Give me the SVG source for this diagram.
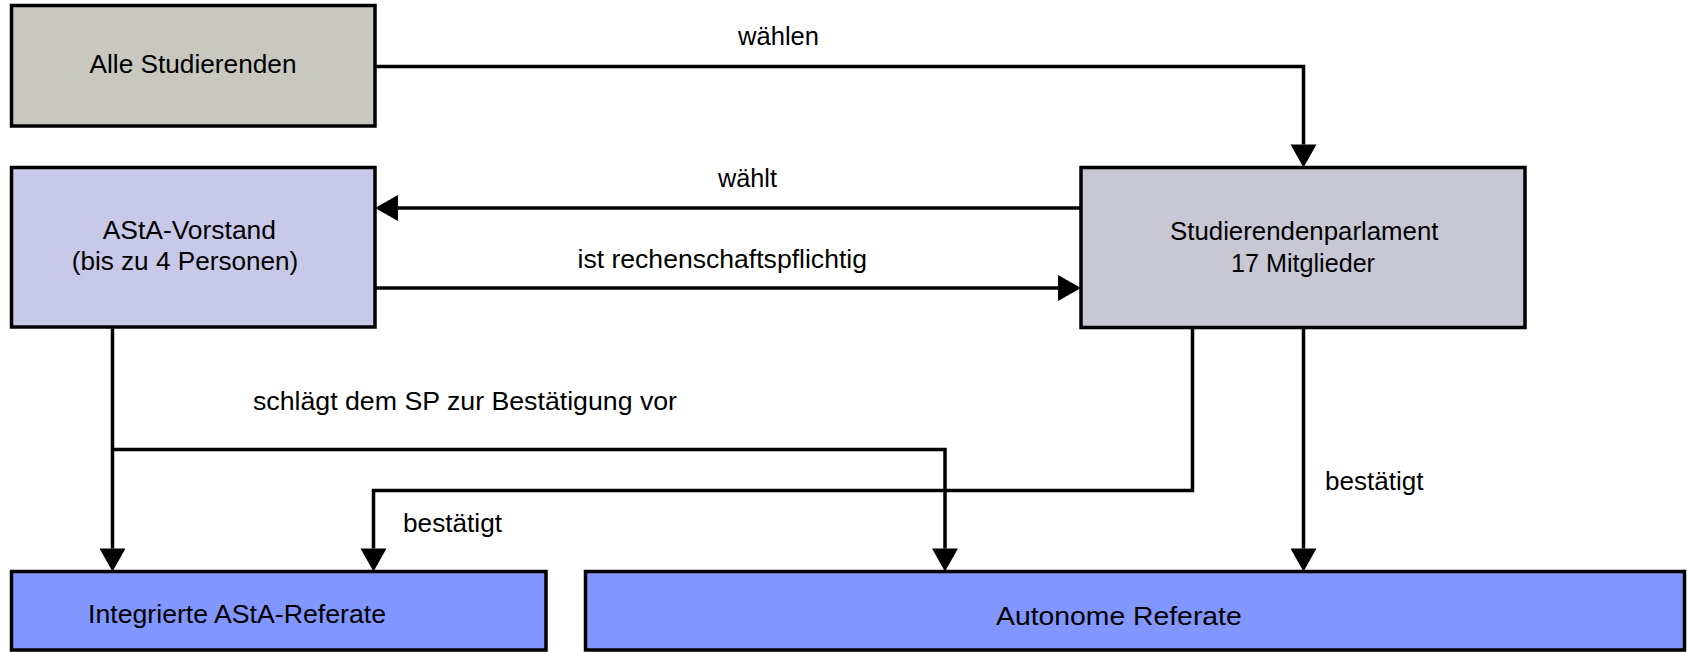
<svg xmlns="http://www.w3.org/2000/svg" width="1687" height="652" viewBox="0 0 1687 652">
<style>
.box{stroke:#000;stroke-width:3.5}
.t{font-family:"Liberation Sans",Arial,sans-serif;font-size:26px;fill:#000}
.m{text-anchor:middle}
.c{fill:none;stroke:#000;stroke-width:3.5;stroke-linejoin:miter;marker-end:url(#ah)}
</style>
<defs>
<marker id="ah" markerUnits="userSpaceOnUse" markerWidth="24" markerHeight="27" refX="0" refY="13" orient="auto" overflow="visible">
<path d="M0,0 L23,13 L0,26 Z" fill="#000"/>
</marker>
</defs>
<rect width="1687" height="652" fill="#fff"/>
<g id="connectors">
<path class="c" d="M375,66.5 H1303.5 V144.5"/>
<path class="c" d="M1081,208 H398"/>
<path class="c" d="M375,288 H1058"/>
<path class="c" d="M112.5,327 V548.5"/>
<path class="c" d="M112.5,449.5 H945 V548.5"/>
<path class="c" d="M1192.5,327.5 V490.5 H373.5 V548.5"/>
<path class="c" d="M1303.5,327.5 V548.5"/>
</g>
<g id="labels">
<text class="t" x="738" y="45" textLength="81" lengthAdjust="spacingAndGlyphs">wählen</text>
<text class="t" x="718" y="187" textLength="59" lengthAdjust="spacingAndGlyphs">wählt</text>
<text class="t" x="577.5" y="268" textLength="289.5" lengthAdjust="spacingAndGlyphs">ist rechenschaftspflichtig</text>
<text class="t" x="253" y="410" textLength="424" lengthAdjust="spacingAndGlyphs">schlägt dem SP zur Bestätigung vor</text>
<text class="t" x="403" y="532" textLength="99" lengthAdjust="spacingAndGlyphs">bestätigt</text>
<text class="t" x="1325" y="490" textLength="98.5" lengthAdjust="spacingAndGlyphs">bestätigt</text>
</g>
<g id="alle">
<rect class="box" x="11.5" y="5.5" width="363.5" height="120.5" fill="#c8c8c0"/>
<text class="t" x="89.5" y="73" textLength="207" lengthAdjust="spacingAndGlyphs">Alle Studierenden</text>
</g>
<g id="asta">
<rect class="box" x="11.5" y="167.5" width="363.5" height="159.5" fill="#c8c8e8"/>
<text class="t" x="102.7" y="239" textLength="173.3" lengthAdjust="spacingAndGlyphs">AStA-Vorstand</text>
<text class="t" x="71.7" y="270" textLength="226.6" lengthAdjust="spacingAndGlyphs">(bis zu 4 Personen)</text>
</g>
<g id="sp">
<rect class="box" x="1081" y="167.5" width="444" height="160" fill="#c8c8d4"/>
<text class="t" x="1170" y="240" textLength="268.5" lengthAdjust="spacingAndGlyphs">Studierendenparlament</text>
<text class="t" x="1231" y="272" textLength="144" lengthAdjust="spacingAndGlyphs">17 Mitglieder</text>
</g>
<g id="integrierte">
<rect class="box" x="11.5" y="571.5" width="534.5" height="78.5" fill="#8196ff"/>
<text class="t" x="88" y="623" textLength="298" lengthAdjust="spacingAndGlyphs">Integrierte AStA-Referate</text>
</g>
<g id="autonome">
<rect class="box" x="585.5" y="571.5" width="1099" height="78.5" fill="#8196ff"/>
<text class="t" x="996" y="625" textLength="245.7" lengthAdjust="spacingAndGlyphs">Autonome Referate</text>
</g>
</svg>
